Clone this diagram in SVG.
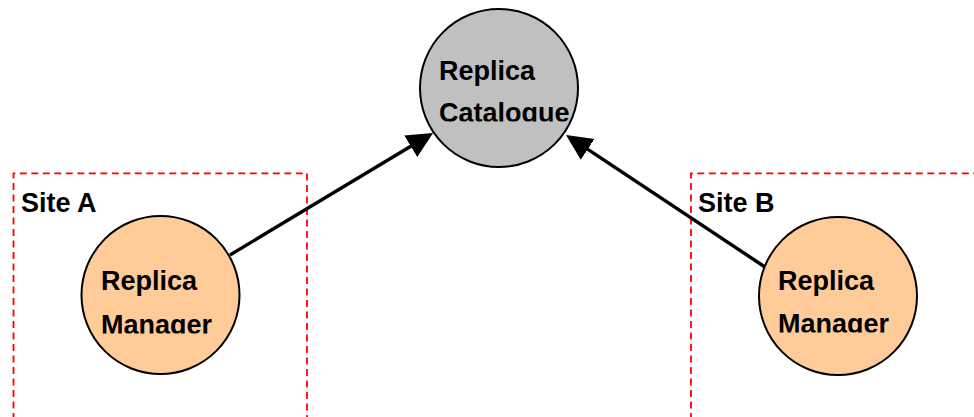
<svg xmlns="http://www.w3.org/2000/svg" width="974" height="417" viewBox="0 0 974 417">
<style>
.site{fill:none;stroke:#FF0000;stroke-width:1.8;stroke-dasharray:7 4.5}
.node{stroke:#000;stroke-width:2}
.cat{fill:#C0C0C0}
.mgr{fill:#FFCC99}
.lbl{font-family:"Liberation Sans",Arial,sans-serif;font-weight:bold;font-size:27px;fill:#000}
.conn{stroke:#000;stroke-width:3.4;fill:none}
</style>
<defs>
<marker id="arr" markerUnits="userSpaceOnUse" markerWidth="28" markerHeight="26" refX="2" refY="12.5" orient="auto" viewBox="0 0 28 25">
<path d="M0,0 L26,12.5 L0,25 z" fill="#000"/>
</marker>
<clipPath id="clipCat"><rect x="420" y="0" width="170" height="121.5"/></clipPath>
<clipPath id="clipA"><rect x="80" y="200" width="170" height="133.5"/></clipPath>
<clipPath id="clipB2"><rect x="755" y="200" width="170" height="132.5"/></clipPath>
</defs>
<g id="siteA">
<path class="site" d="M13.5,420 L13.5,173.3 L307,173.3 L307,420"/>
<text class="lbl" x="21" y="212">Site A</text>
</g>
<g id="siteB">
<path class="site" d="M691,420 L691,173.3 L980,173.3"/>
<text class="lbl" x="698" y="212">Site B</text>
</g>
<g id="connectors">
<line class="conn" x1="230" y1="255" x2="412.5" y2="145.3" marker-end="url(#arr)"/>
<line class="conn" x1="765" y1="267" x2="586" y2="148.2" marker-end="url(#arr)"/>
</g>
<g id="replica-catalogue">
<circle class="node cat" cx="499" cy="88" r="79"/>
<g clip-path="url(#clipCat)">
<text class="lbl" x="439" y="80">Replica</text>
<text class="lbl" x="439" y="122">Catalogue</text>
</g>
</g>
<g id="replica-manager-a">
<circle class="node mgr" cx="160.5" cy="295" r="79"/>
<g clip-path="url(#clipA)">
<text class="lbl" x="101" y="290">Replica</text>
<text class="lbl" x="101" y="334">Manager</text>
</g>
</g>
<g id="replica-manager-b">
<circle class="node mgr" cx="838" cy="296" r="79"/>
<g clip-path="url(#clipB2)">
<text class="lbl" x="778" y="290">Replica</text>
<text class="lbl" x="778" y="333">Manager</text>
</g>
</g>
</svg>
